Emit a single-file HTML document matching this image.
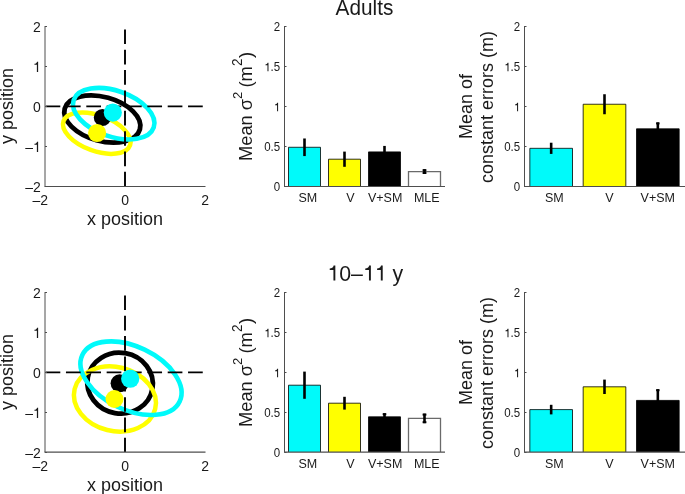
<!DOCTYPE html>
<html><head><meta charset="utf-8"><style>
html,body{margin:0;padding:0;background:#fff;}
body{width:685px;height:494px;overflow:hidden;}
svg{display:block;will-change:transform;}
text{font-family:"Liberation Sans", sans-serif;}
</style></head><body>
<svg width="685" height="494" viewBox="0 0 685 494" font-family='"Liberation Sans", sans-serif' fill="#1a1a1a">
<rect width="685" height="494" fill="#fff"/>
<ellipse cx="102.3" cy="119.0" rx="39.0" ry="22.0" transform="rotate(15.5 102.3 119.0)" fill="none" stroke="#000" stroke-width="4.8"/>
<ellipse cx="96.8" cy="133.2" rx="35.4" ry="17.8" transform="rotate(20 96.8 133.2)" fill="none" stroke="#ffff00" stroke-width="4.5"/>
<ellipse cx="113.7" cy="113.7" rx="42.3" ry="23.0" transform="rotate(19 113.7 113.7)" fill="none" stroke="#00fafa" stroke-width="4.6"/>
<line x1="45" y1="106.4" x2="205" y2="106.4" stroke="#000" stroke-width="1.6" stroke-dasharray="14.7 5.65" stroke-dashoffset="-0.6"/>
<line x1="125" y1="26" x2="125" y2="186" stroke="#000" stroke-width="1.9" stroke-dasharray="14.7 5.65" stroke-dashoffset="-3.4"/>
<circle cx="102.4" cy="117.5" r="8.6" fill="#000"/>
<circle cx="112.8" cy="112.6" r="9.1" fill="#00fafa"/>
<circle cx="97.1" cy="133.0" r="9.1" fill="#ffff00"/>
<line x1="45" y1="26" x2="45" y2="186.5" stroke="#4e4e4e" stroke-width="1"/>
<line x1="44.5" y1="186.5" x2="205.5" y2="186.5" stroke="#4e4e4e" stroke-width="1"/>
<line x1="45" y1="26.5" x2="47" y2="26.5" stroke="#4e4e4e" stroke-width="1"/>
<line x1="45" y1="66.5" x2="47" y2="66.5" stroke="#4e4e4e" stroke-width="1"/>
<line x1="45" y1="106.5" x2="47" y2="106.5" stroke="#4e4e4e" stroke-width="1"/>
<line x1="45" y1="146.5" x2="47" y2="146.5" stroke="#4e4e4e" stroke-width="1"/>
<line x1="45" y1="186.5" x2="47" y2="186.5" stroke="#4e4e4e" stroke-width="1"/>
<text transform="translate(40.70 32.00) scale(1 1.04)" font-size="14" text-anchor="end">2</text>
<g transform="translate(40.70 72.00) scale(1 1.04)"><path d="M0.372 0L0.283 0L0.283 0.503L0.109 0.503L0.109 0.566C0.2 0.575 0.268 0.6 0.293 0.709L0.372 0.709Z" transform="translate(-7.78 0) scale(14 -14)"/></g>
<text transform="translate(40.70 112.00) scale(1 1.04)" font-size="14" text-anchor="end">0</text>
<g transform="translate(40.70 152.00) scale(1 1.04)"><text x="-15.57" y="0" font-size="14">–</text><path d="M0.372 0L0.283 0L0.283 0.503L0.109 0.503L0.109 0.566C0.2 0.575 0.268 0.6 0.293 0.709L0.372 0.709Z" transform="translate(-7.78 0) scale(14 -14)"/></g>
<text transform="translate(40.70 192.00) scale(1 1.04)" font-size="14" text-anchor="end">–2</text>
<text transform="translate(32.40 204.80) scale(1 1.04)" font-size="14">–2</text>
<text transform="translate(125.20 204.80) scale(1 1.04)" font-size="14" text-anchor="middle">0</text>
<text transform="translate(205.20 204.80) scale(1 1.04)" font-size="14" text-anchor="middle">2</text>
<text transform="translate(124.90 225.00) scale(1 1.04)" font-size="18" text-anchor="middle">x position</text>
<text transform="translate(12.80 106.00) rotate(-90) scale(1 1.04)" font-size="18" text-anchor="middle">y position</text>
<ellipse cx="120.1" cy="383.1" rx="32.8" ry="30.4" transform="rotate(10 120.1 383.1)" fill="none" stroke="#000" stroke-width="4.8"/>
<ellipse cx="114.9" cy="399.0" rx="41.5" ry="31.9" transform="rotate(14 114.9 399.0)" fill="none" stroke="#ffff00" stroke-width="4.5"/>
<ellipse cx="131.0" cy="378.2" rx="53.9" ry="31.6" transform="rotate(25.5 131.0 378.2)" fill="none" stroke="#00fafa" stroke-width="4.6"/>
<line x1="45" y1="372.4" x2="205" y2="372.4" stroke="#000" stroke-width="1.6" stroke-dasharray="14.7 5.65" stroke-dashoffset="-0.6"/>
<line x1="125" y1="292" x2="125" y2="452" stroke="#000" stroke-width="1.9" stroke-dasharray="14.7 5.65" stroke-dashoffset="-3.4"/>
<circle cx="119.6" cy="383.3" r="9.0" fill="#000"/>
<circle cx="130.2" cy="378.7" r="9.1" fill="#00fafa"/>
<circle cx="114.5" cy="399.0" r="9.0" fill="#ffff00"/>
<line x1="45" y1="292" x2="45" y2="452.2" stroke="#4e4e4e" stroke-width="1"/>
<line x1="44.5" y1="452.2" x2="205.5" y2="452.2" stroke="#4e4e4e" stroke-width="1.2"/>
<line x1="45" y1="292.5" x2="47" y2="292.5" stroke="#4e4e4e" stroke-width="1"/>
<line x1="45" y1="332.5" x2="47" y2="332.5" stroke="#4e4e4e" stroke-width="1"/>
<line x1="45" y1="372.5" x2="47" y2="372.5" stroke="#4e4e4e" stroke-width="1"/>
<line x1="45" y1="412.5" x2="47" y2="412.5" stroke="#4e4e4e" stroke-width="1"/>
<line x1="45" y1="452.5" x2="47" y2="452.5" stroke="#4e4e4e" stroke-width="1"/>
<text transform="translate(40.70 298.00) scale(1 1.04)" font-size="14" text-anchor="end">2</text>
<g transform="translate(40.70 338.00) scale(1 1.04)"><path d="M0.372 0L0.283 0L0.283 0.503L0.109 0.503L0.109 0.566C0.2 0.575 0.268 0.6 0.293 0.709L0.372 0.709Z" transform="translate(-7.78 0) scale(14 -14)"/></g>
<text transform="translate(40.70 378.00) scale(1 1.04)" font-size="14" text-anchor="end">0</text>
<g transform="translate(40.70 418.00) scale(1 1.04)"><text x="-15.57" y="0" font-size="14">–</text><path d="M0.372 0L0.283 0L0.283 0.503L0.109 0.503L0.109 0.566C0.2 0.575 0.268 0.6 0.293 0.709L0.372 0.709Z" transform="translate(-7.78 0) scale(14 -14)"/></g>
<text transform="translate(40.70 458.00) scale(1 1.04)" font-size="14" text-anchor="end">–2</text>
<text transform="translate(32.40 470.80) scale(1 1.04)" font-size="14">–2</text>
<text transform="translate(125.20 470.80) scale(1 1.04)" font-size="14" text-anchor="middle">0</text>
<text transform="translate(205.20 470.80) scale(1 1.04)" font-size="14" text-anchor="middle">2</text>
<text transform="translate(124.90 491.00) scale(1 1.04)" font-size="18" text-anchor="middle">x position</text>
<text transform="translate(12.80 372.00) rotate(-90) scale(1 1.04)" font-size="18" text-anchor="middle">y position</text>
<rect x="288.50" y="147.28" width="32.00" height="38.72" fill="#00fafa"/>
<path d="M288.50 186.00V147.28H320.50V186.00" fill="none" stroke="#000" stroke-width="0.8"/>
<rect x="328.50" y="159.20" width="32.00" height="26.80" fill="#ffff00"/>
<path d="M328.50 186.00V159.20H360.50V186.00" fill="none" stroke="#000" stroke-width="0.8"/>
<rect x="368.50" y="151.92" width="32.00" height="34.08" fill="#000"/>
<path d="M368.50 186.00V151.92H400.50V186.00" fill="none" stroke="#000" stroke-width="0.8"/>
<rect x="408.50" y="171.60" width="32.00" height="14.40" fill="#fff"/>
<path d="M408.50 186.00V171.60H440.50V186.00" fill="none" stroke="#6a6a6a" stroke-width="1.3"/>
<line x1="304.50" y1="138.48" x2="304.50" y2="156.08" stroke="#000" stroke-width="2.6"/>
<line x1="344.50" y1="151.60" x2="344.50" y2="166.80" stroke="#000" stroke-width="2.6"/>
<line x1="384.50" y1="145.92" x2="384.50" y2="157.92" stroke="#000" stroke-width="2.6"/>
<line x1="424.50" y1="169.20" x2="424.50" y2="174.00" stroke="#000" stroke-width="2.6"/>
<line x1="422.60" y1="170.20" x2="426.40" y2="170.20" stroke="#000" stroke-width="2"/>
<line x1="422.60" y1="173.00" x2="426.40" y2="173.00" stroke="#000" stroke-width="2"/>
<line x1="284.5" y1="26" x2="284.5" y2="186.5" stroke="#4e4e4e" stroke-width="1"/>
<line x1="284.0" y1="186.5" x2="445.0" y2="186.5" stroke="#4e4e4e" stroke-width="1"/>
<line x1="284.5" y1="26.5" x2="286.5" y2="26.5" stroke="#4e4e4e" stroke-width="1"/>
<text transform="translate(280.20 31.30) scale(1 1.04)" font-size="11.5" text-anchor="end">2</text>
<line x1="284.5" y1="66.5" x2="286.5" y2="66.5" stroke="#4e4e4e" stroke-width="1"/>
<g transform="translate(280.20 71.30) scale(1 1.04)"><path d="M0.372 0L0.283 0L0.283 0.503L0.109 0.503L0.109 0.566C0.2 0.575 0.268 0.6 0.293 0.709L0.372 0.709Z" transform="translate(-15.99 0) scale(11.5 -11.5)"/><text x="-9.59" y="0" font-size="11.5">.5</text></g>
<line x1="284.5" y1="106.5" x2="286.5" y2="106.5" stroke="#4e4e4e" stroke-width="1"/>
<g transform="translate(280.20 111.30) scale(1 1.04)"><path d="M0.372 0L0.283 0L0.283 0.503L0.109 0.503L0.109 0.566C0.2 0.575 0.268 0.6 0.293 0.709L0.372 0.709Z" transform="translate(-6.39 0) scale(11.5 -11.5)"/></g>
<line x1="284.5" y1="146.5" x2="286.5" y2="146.5" stroke="#4e4e4e" stroke-width="1"/>
<text transform="translate(280.20 151.30) scale(1 1.04)" font-size="11.5" text-anchor="end">0.5</text>
<line x1="284.5" y1="186.5" x2="286.5" y2="186.5" stroke="#4e4e4e" stroke-width="1"/>
<text transform="translate(280.20 191.30) scale(1 1.04)" font-size="11.5" text-anchor="end">0</text>
<text transform="translate(307.90 201.70) scale(1 1.0)" font-size="12.5" text-anchor="middle">SM</text>
<text transform="translate(350.40 201.70) scale(1 1.0)" font-size="12.5" text-anchor="middle">V</text>
<text transform="translate(385.10 201.70) scale(1 1.0)" font-size="12.5" text-anchor="middle">V+SM</text>
<text transform="translate(426.80 201.70) scale(1 1.0)" font-size="12.5" text-anchor="middle">MLE</text>
<rect x="529.83" y="148.32" width="42.67" height="37.68" fill="#00fafa"/>
<path d="M529.83 186.00V148.32H572.50V186.00" fill="none" stroke="#000" stroke-width="0.8"/>
<rect x="583.17" y="104.24" width="42.67" height="81.76" fill="#ffff00"/>
<path d="M583.17 186.00V104.24H625.83V186.00" fill="none" stroke="#000" stroke-width="0.8"/>
<rect x="636.50" y="128.80" width="42.67" height="57.20" fill="#000"/>
<path d="M636.50 186.00V128.80H679.17V186.00" fill="none" stroke="#000" stroke-width="0.8"/>
<line x1="551.17" y1="142.72" x2="551.17" y2="153.92" stroke="#000" stroke-width="2.6"/>
<line x1="604.50" y1="94.24" x2="604.50" y2="114.24" stroke="#000" stroke-width="2.6"/>
<line x1="657.83" y1="122.40" x2="657.83" y2="135.20" stroke="#000" stroke-width="2.6"/>
<line x1="656.13" y1="123.40" x2="659.53" y2="123.40" stroke="#000" stroke-width="2"/>
<line x1="656.13" y1="134.20" x2="659.53" y2="134.20" stroke="#000" stroke-width="2"/>
<line x1="524.5" y1="26" x2="524.5" y2="186.5" stroke="#4e4e4e" stroke-width="1"/>
<line x1="524.0" y1="186.5" x2="685.0" y2="186.5" stroke="#4e4e4e" stroke-width="1"/>
<line x1="524.5" y1="26.5" x2="526.5" y2="26.5" stroke="#4e4e4e" stroke-width="1"/>
<text transform="translate(520.20 31.30) scale(1 1.04)" font-size="11.5" text-anchor="end">2</text>
<line x1="524.5" y1="66.5" x2="526.5" y2="66.5" stroke="#4e4e4e" stroke-width="1"/>
<g transform="translate(520.20 71.30) scale(1 1.04)"><path d="M0.372 0L0.283 0L0.283 0.503L0.109 0.503L0.109 0.566C0.2 0.575 0.268 0.6 0.293 0.709L0.372 0.709Z" transform="translate(-15.99 0) scale(11.5 -11.5)"/><text x="-9.59" y="0" font-size="11.5">.5</text></g>
<line x1="524.5" y1="106.5" x2="526.5" y2="106.5" stroke="#4e4e4e" stroke-width="1"/>
<g transform="translate(520.20 111.30) scale(1 1.04)"><path d="M0.372 0L0.283 0L0.283 0.503L0.109 0.503L0.109 0.566C0.2 0.575 0.268 0.6 0.293 0.709L0.372 0.709Z" transform="translate(-6.39 0) scale(11.5 -11.5)"/></g>
<line x1="524.5" y1="146.5" x2="526.5" y2="146.5" stroke="#4e4e4e" stroke-width="1"/>
<text transform="translate(520.20 151.30) scale(1 1.04)" font-size="11.5" text-anchor="end">0.5</text>
<line x1="524.5" y1="186.5" x2="526.5" y2="186.5" stroke="#4e4e4e" stroke-width="1"/>
<text transform="translate(520.20 191.30) scale(1 1.04)" font-size="11.5" text-anchor="end">0</text>
<text transform="translate(554.30 201.70) scale(1 1.0)" font-size="12.5" text-anchor="middle">SM</text>
<text transform="translate(609.50 201.70) scale(1 1.0)" font-size="12.5" text-anchor="middle">V</text>
<text transform="translate(657.80 201.70) scale(1 1.0)" font-size="12.5" text-anchor="middle">V+SM</text>
<rect x="288.50" y="385.20" width="32.00" height="66.80" fill="#00fafa"/>
<path d="M288.50 452.00V385.20H320.50V452.00" fill="none" stroke="#000" stroke-width="0.8"/>
<rect x="328.50" y="403.20" width="32.00" height="48.80" fill="#ffff00"/>
<path d="M328.50 452.00V403.20H360.50V452.00" fill="none" stroke="#000" stroke-width="0.8"/>
<rect x="368.50" y="416.80" width="32.00" height="35.20" fill="#000"/>
<path d="M368.50 452.00V416.80H400.50V452.00" fill="none" stroke="#000" stroke-width="0.8"/>
<rect x="408.50" y="418.40" width="32.00" height="33.60" fill="#fff"/>
<path d="M408.50 452.00V418.40H440.50V452.00" fill="none" stroke="#6a6a6a" stroke-width="1.3"/>
<line x1="304.50" y1="371.60" x2="304.50" y2="398.80" stroke="#000" stroke-width="2.6"/>
<line x1="344.50" y1="396.80" x2="344.50" y2="409.60" stroke="#000" stroke-width="2.6"/>
<line x1="384.50" y1="413.20" x2="384.50" y2="420.40" stroke="#000" stroke-width="2.6"/>
<line x1="382.70" y1="414.20" x2="386.30" y2="414.20" stroke="#000" stroke-width="2"/>
<line x1="382.70" y1="419.40" x2="386.30" y2="419.40" stroke="#000" stroke-width="2"/>
<line x1="424.50" y1="413.60" x2="424.50" y2="423.20" stroke="#000" stroke-width="2.6"/>
<line x1="422.60" y1="414.60" x2="426.40" y2="414.60" stroke="#000" stroke-width="2"/>
<line x1="422.60" y1="422.20" x2="426.40" y2="422.20" stroke="#000" stroke-width="2"/>
<line x1="284.5" y1="292" x2="284.5" y2="452.2" stroke="#4e4e4e" stroke-width="1"/>
<line x1="284.0" y1="452.2" x2="445.0" y2="452.2" stroke="#4e4e4e" stroke-width="1.2"/>
<line x1="284.5" y1="292.5" x2="286.5" y2="292.5" stroke="#4e4e4e" stroke-width="1"/>
<text transform="translate(280.20 297.30) scale(1 1.04)" font-size="11.5" text-anchor="end">2</text>
<line x1="284.5" y1="332.5" x2="286.5" y2="332.5" stroke="#4e4e4e" stroke-width="1"/>
<g transform="translate(280.20 337.30) scale(1 1.04)"><path d="M0.372 0L0.283 0L0.283 0.503L0.109 0.503L0.109 0.566C0.2 0.575 0.268 0.6 0.293 0.709L0.372 0.709Z" transform="translate(-15.99 0) scale(11.5 -11.5)"/><text x="-9.59" y="0" font-size="11.5">.5</text></g>
<line x1="284.5" y1="372.5" x2="286.5" y2="372.5" stroke="#4e4e4e" stroke-width="1"/>
<g transform="translate(280.20 377.30) scale(1 1.04)"><path d="M0.372 0L0.283 0L0.283 0.503L0.109 0.503L0.109 0.566C0.2 0.575 0.268 0.6 0.293 0.709L0.372 0.709Z" transform="translate(-6.39 0) scale(11.5 -11.5)"/></g>
<line x1="284.5" y1="412.5" x2="286.5" y2="412.5" stroke="#4e4e4e" stroke-width="1"/>
<text transform="translate(280.20 417.30) scale(1 1.04)" font-size="11.5" text-anchor="end">0.5</text>
<line x1="284.5" y1="452.5" x2="286.5" y2="452.5" stroke="#4e4e4e" stroke-width="1"/>
<text transform="translate(280.20 457.30) scale(1 1.04)" font-size="11.5" text-anchor="end">0</text>
<text transform="translate(307.90 467.70) scale(1 1.0)" font-size="12.5" text-anchor="middle">SM</text>
<text transform="translate(350.40 467.70) scale(1 1.0)" font-size="12.5" text-anchor="middle">V</text>
<text transform="translate(385.10 467.70) scale(1 1.0)" font-size="12.5" text-anchor="middle">V+SM</text>
<text transform="translate(426.80 467.70) scale(1 1.0)" font-size="12.5" text-anchor="middle">MLE</text>
<rect x="529.83" y="409.60" width="42.67" height="42.40" fill="#00fafa"/>
<path d="M529.83 452.00V409.60H572.50V452.00" fill="none" stroke="#000" stroke-width="0.8"/>
<rect x="583.17" y="386.80" width="42.67" height="65.20" fill="#ffff00"/>
<path d="M583.17 452.00V386.80H625.83V452.00" fill="none" stroke="#000" stroke-width="0.8"/>
<rect x="636.50" y="400.40" width="42.67" height="51.60" fill="#000"/>
<path d="M636.50 452.00V400.40H679.17V452.00" fill="none" stroke="#000" stroke-width="0.8"/>
<line x1="551.17" y1="404.80" x2="551.17" y2="414.40" stroke="#000" stroke-width="2.6"/>
<line x1="604.50" y1="379.60" x2="604.50" y2="394.00" stroke="#000" stroke-width="2.6"/>
<line x1="657.83" y1="389.20" x2="657.83" y2="411.60" stroke="#000" stroke-width="2.6"/>
<line x1="656.13" y1="390.20" x2="659.53" y2="390.20" stroke="#000" stroke-width="2"/>
<line x1="656.13" y1="410.60" x2="659.53" y2="410.60" stroke="#000" stroke-width="2"/>
<line x1="524.5" y1="292" x2="524.5" y2="452.2" stroke="#4e4e4e" stroke-width="1"/>
<line x1="524.0" y1="452.2" x2="685.0" y2="452.2" stroke="#4e4e4e" stroke-width="1.2"/>
<line x1="524.5" y1="292.5" x2="526.5" y2="292.5" stroke="#4e4e4e" stroke-width="1"/>
<text transform="translate(520.20 297.30) scale(1 1.04)" font-size="11.5" text-anchor="end">2</text>
<line x1="524.5" y1="332.5" x2="526.5" y2="332.5" stroke="#4e4e4e" stroke-width="1"/>
<g transform="translate(520.20 337.30) scale(1 1.04)"><path d="M0.372 0L0.283 0L0.283 0.503L0.109 0.503L0.109 0.566C0.2 0.575 0.268 0.6 0.293 0.709L0.372 0.709Z" transform="translate(-15.99 0) scale(11.5 -11.5)"/><text x="-9.59" y="0" font-size="11.5">.5</text></g>
<line x1="524.5" y1="372.5" x2="526.5" y2="372.5" stroke="#4e4e4e" stroke-width="1"/>
<g transform="translate(520.20 377.30) scale(1 1.04)"><path d="M0.372 0L0.283 0L0.283 0.503L0.109 0.503L0.109 0.566C0.2 0.575 0.268 0.6 0.293 0.709L0.372 0.709Z" transform="translate(-6.39 0) scale(11.5 -11.5)"/></g>
<line x1="524.5" y1="412.5" x2="526.5" y2="412.5" stroke="#4e4e4e" stroke-width="1"/>
<text transform="translate(520.20 417.30) scale(1 1.04)" font-size="11.5" text-anchor="end">0.5</text>
<line x1="524.5" y1="452.5" x2="526.5" y2="452.5" stroke="#4e4e4e" stroke-width="1"/>
<text transform="translate(520.20 457.30) scale(1 1.04)" font-size="11.5" text-anchor="end">0</text>
<text transform="translate(554.30 467.70) scale(1 1.0)" font-size="12.5" text-anchor="middle">SM</text>
<text transform="translate(609.50 467.70) scale(1 1.0)" font-size="12.5" text-anchor="middle">V</text>
<text transform="translate(657.80 467.70) scale(1 1.0)" font-size="12.5" text-anchor="middle">V+SM</text>
<text transform="translate(364.50 14.80) scale(1 1.04)" font-size="20.8" text-anchor="middle">Adults</text>
<g transform="translate(365.30 280.60) scale(1 1.0)"><path d="M0.372 0L0.283 0L0.283 0.503L0.109 0.503L0.109 0.566C0.2 0.575 0.268 0.6 0.293 0.709L0.372 0.709Z" transform="translate(-37.89 0) scale(21.3 -21.3)"/><text x="-26.05" y="0" font-size="21.3">0–</text><path d="M0.372 0L0.283 0L0.283 0.503L0.109 0.503L0.109 0.566C0.2 0.575 0.268 0.6 0.293 0.709L0.372 0.709Z" transform="translate(-2.36 0) scale(21.3 -21.3)"/><path d="M0.372 0L0.283 0L0.283 0.503L0.109 0.503L0.109 0.566C0.2 0.575 0.268 0.6 0.293 0.709L0.372 0.709Z" transform="translate(9.48 0) scale(21.3 -21.3)"/><text x="27.24" y="0" font-size="21.3">y</text></g>
<text transform="translate(251.70 106.50) rotate(-90) scale(1 1.04)" font-size="18.3" text-anchor="middle">Mean σ<tspan font-size="13" dy="-9">2</tspan><tspan dy="9" dx="-1"> (m</tspan><tspan font-size="13.5" dy="-9" dx="0.4">2</tspan><tspan dy="9" dx="0.3">)</tspan></text>
<text transform="translate(471.60 106.40) rotate(-90) scale(1 1.04)" font-size="18" text-anchor="middle">Mean of</text>
<text transform="translate(492.50 107.00) rotate(-90) scale(1 1.04)" font-size="18" text-anchor="middle">constant errors (m)</text>
<text transform="translate(251.70 372.50) rotate(-90) scale(1 1.04)" font-size="18.3" text-anchor="middle">Mean σ<tspan font-size="13" dy="-9">2</tspan><tspan dy="9" dx="-1"> (m</tspan><tspan font-size="13.5" dy="-9" dx="0.4">2</tspan><tspan dy="9" dx="0.3">)</tspan></text>
<text transform="translate(471.60 372.40) rotate(-90) scale(1 1.04)" font-size="18" text-anchor="middle">Mean of</text>
<text transform="translate(492.50 373.00) rotate(-90) scale(1 1.04)" font-size="18" text-anchor="middle">constant errors (m)</text>
</svg>
</body></html>
